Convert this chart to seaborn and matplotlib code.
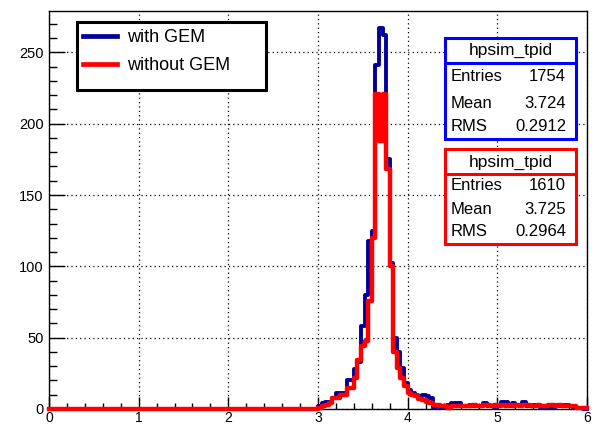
import numpy as np
import pandas as pd
import matplotlib
matplotlib.use("Agg")
import matplotlib.pyplot as plt
from matplotlib.patches import Rectangle
from matplotlib.lines import Line2D
import seaborn as sns

# ---------------- data ----------------
X_MIN, X_MAX, N_BINS = 0.0, 6.0, 150
DATA_START = 3.0          # first non-empty bin (bin width 0.04)

with_gem = [2, 4, 5, 5, 8, 11, 11, 11, 20, 20,
            28, 33, 58, 80, 118, 125, 241, 267, 262, 175,
            102, 50, 40, 29, 18, 13, 11, 10, 9, 10,
            9, 8, 1, 2, 1, 2, 3, 4, 4, 4,
            2, 2, 3, 2, 2, 2, 4, 2, 2, 1,
            2, 5, 5, 2, 4, 3, 3, 5, 2, 2,
            3, 2, 1, 2, 1, 1, 2, 2, 3, 3,
            2, 1, 1, 1, 0]
without_gem = [1, 2, 3, 4, 8, 8, 10, 10, 15, 15,
               22, 34, 44, 48, 76, 120, 221, 188, 221, 168,
               100, 40, 29, 22, 16, 11, 10, 9, 7, 6,
               5, 4, 3, 3, 2, 2, 1, 2, 2, 2,
               2, 2, 2, 3, 2, 2, 3, 3, 2, 3,
               2, 3, 2, 3, 2, 3, 2, 3, 3, 2,
               2, 3, 2, 2, 3, 3, 2, 3, 2, 2,
               2, 2, 1, 1, 1]
series_labels = ["with GEM", "without GEM"]

stat_title = "hpsim_tpid"
stat_names = ["Entries", "Mean", "RMS"]
with_gem_stats = ["1754", "3.724", "0.2912"]
without_gem_stats = ["1610", "3.725", "0.2964"]

x_ticks = [0, 1, 2, 3, 4, 5, 6]
y_ticks = [0, 50, 100, 150, 200, 250]
Y_MAX = 279

BLUE_LINE = "#000099"
BLUE_BOX = "#0000ff"
RED = "#ff0000"

# ---------------- figure ----------------
W, H = 596, 425
plt.rcParams["font.family"] = ["Liberation Sans", "DejaVu Sans"]
fig = plt.figure(figsize=(W / 100, H / 100), dpi=100, facecolor="white")

def fx(px):
    return px / W

def fy(py):
    return 1 - py / H

AX_L, AX_R, AX_T, AX_B = 49, 587, 11, 409
ax = fig.add_axes([fx(AX_L), fy(AX_B), (AX_R - AX_L) / W, (AX_B - AX_T) / H])

edges = np.linspace(X_MIN, X_MAX, N_BINS + 1)
centers = 0.5 * (edges[:-1] + edges[1:])
start = int(round((DATA_START - X_MIN) / (edges[1] - edges[0])))
w_blue = np.zeros(N_BINS)
w_blue[start:start + len(with_gem)] = with_gem
w_red = np.zeros(N_BINS)
w_red[start:start + len(without_gem)] = without_gem

df_blue = pd.DataFrame({"x": centers, "count": w_blue})
df_red = pd.DataFrame({"x": centers, "count": w_red})

sns.histplot(data=df_blue, x="x", weights="count", bins=list(edges), element="step",
             fill=False, color=BLUE_LINE, linewidth=2.8, ax=ax, clip_on=False, zorder=3)
sns.histplot(data=df_red, x="x", weights="count", bins=list(edges), element="step",
             fill=False, color=RED, linewidth=3.2, ax=ax, clip_on=False, zorder=3.1)

ax.set_xlim(X_MIN, X_MAX)
ax.set_ylim(0, Y_MAX)
ax.set_xlabel("")
ax.set_ylabel("")
ax.set_xticks(x_ticks)
ax.set_yticks(y_ticks)
ax.set_xticks(np.arange(0, 6.001, 0.2), minor=True)
ax.set_yticks(np.arange(0, 271, 10), minor=True)
ax.tick_params(axis="both", which="both", direction="in", top=False, right=False,
               width=1.0, labelsize=10.5, colors="black")
ax.tick_params(axis="y", which="major", length=11.5, pad=4)
ax.tick_params(axis="y", which="minor", length=5.8)
ax.tick_params(axis="x", which="major", length=8.6, pad=1.5, labelsize=10)
ax.tick_params(axis="x", which="minor", length=4.3)
for s in ax.spines.values():
    s.set_linewidth(1.0)
    s.set_color("black")
ax.grid(True, which="major", color="black", linestyle=(0, (1, 2.5)), linewidth=0.9)
ax.set_axisbelow(True)

# ---------------- legend ----------------
fig.patches.append(Rectangle((fx(77), fy(90)), (266 - 77) / W, (90 - 22) / H,
                             transform=fig.transFigure, facecolor="white",
                             edgecolor="black", linewidth=2.2, zorder=5))
handles = [Line2D([], [], color=BLUE_LINE, lw=3.4), Line2D([], [], color=RED, lw=3.4)]
leg = fig.legend(handles, series_labels, loc="upper left",
                 bbox_to_anchor=(fx(83), fy(29)), bbox_transform=fig.transFigure,
                 frameon=False, fontsize=13, handlelength=1.9, handletextpad=0.55,
                 labelspacing=0.6, borderpad=0, borderaxespad=0)
leg.set_zorder(6)

# ---------------- stat boxes ----------------
def stat_box(top, bottom, divider, title_y, rows_y, values, color):
    fig.patches.append(Rectangle((fx(445), fy(bottom)), (576 - 445) / W, (bottom - top) / H,
                                 transform=fig.transFigure, facecolor="white",
                                 edgecolor=color, linewidth=2.2, zorder=5))
    fig.lines.append(Line2D([fx(445), fx(576)], [fy(divider), fy(divider)],
                            transform=fig.transFigure, color=color, lw=2.2, zorder=6))
    fig.text(fx(510.5), fy(title_y), stat_title, ha="center", va="center",
             fontsize=12.5, zorder=7)
    for name, val, yy in zip(stat_names, values, rows_y):
        fig.text(fx(451), fy(yy), name, ha="left", va="center", fontsize=12, zorder=7)
        fig.text(fx(566), fy(yy), val, ha="right", va="center", fontsize=12, zorder=7)

stat_box(38.5, 138.5, 62.5, 50.5, [76.5, 103, 126.5], with_gem_stats, BLUE_BOX)
stat_box(148.5, 243.5, 173.5, 162.5, [185, 210, 231.5], without_gem_stats, RED)

fig.savefig("out.png", dpi=100, facecolor="white")
